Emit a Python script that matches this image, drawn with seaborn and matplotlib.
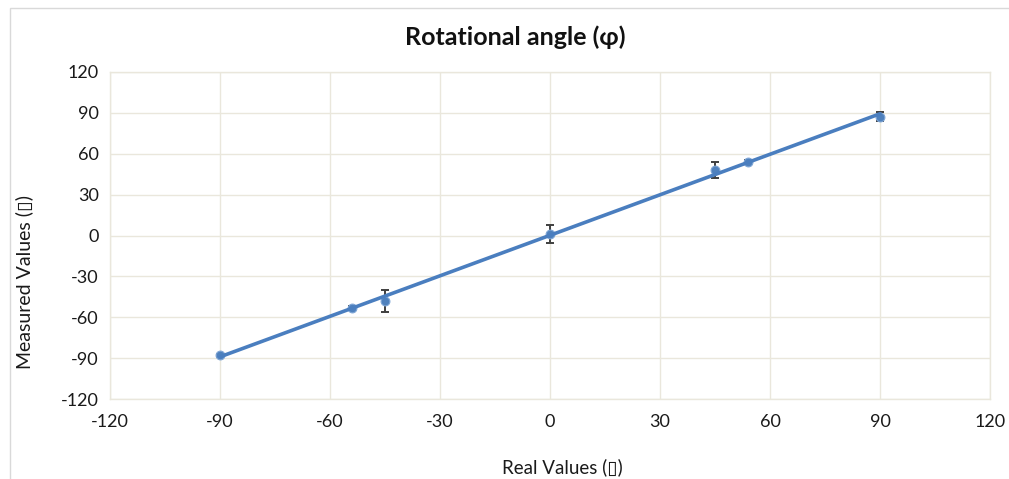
import matplotlib
matplotlib.use("Agg")
import matplotlib.pyplot as plt
import seaborn as sns
import numpy as np
import pandas as pd
from matplotlib.patches import Rectangle

real_values = [-90, -54, -45, 0, 45, 54, 90]
measured_values = [-88, -53, -48, 1, 48, 54, 87]
errors = [1.2, 1.2, 8, 6.5, 6, 1.5, 3.3]
ticks = [-120, -90, -60, -30, 0, 30, 60, 90, 120]

df = pd.DataFrame({"real": real_values, "measured": measured_values, "err": errors})

sns.set_theme(style="white")
plt.rcParams["font.family"] = ["Lato", "DejaVu Sans"]
plt.rcParams["axes.unicode_minus"] = False

fig = plt.figure(figsize=(10.09, 4.79), dpi=100)
ax = fig.add_axes([110/1009, 1-399/479, 880/1009, 327/479])

grid_c = "#EAE7DC"
ax.errorbar(df["real"], df["measured"], yerr=df["err"], fmt="none",
            ecolor="#3F3F3F", elinewidth=1.4, capsize=3, capthick=1.4, zorder=3)
sns.regplot(data=df, x="real", y="measured", ci=None, ax=ax,
            scatter_kws=dict(s=40, color="#4F81BD", edgecolor="#7FA6D6", linewidths=0.8, zorder=4, alpha=1),
            line_kws=dict(color="#4A7EBF", lw=2.6, zorder=5))

ax.set_xlim(-120, 120)
ax.set_ylim(-120, 120)
ax.set_xticks(ticks)
ax.set_yticks(ticks)
ax.grid(True, color=grid_c, lw=1.0)
ax.set_axisbelow(True)
for s in ax.spines.values():
    s.set_color(grid_c)
    s.set_linewidth(1.0)
ax.tick_params(axis="both", length=0, labelsize=13, colors="#1a1a1a", pad=8)
ax.tick_params(axis="x", pad=11)

ax.set_xlabel("")
ax.set_ylabel("")
fig.text(562/1009, 1-467/479, "Real Values (▯)", ha="center", va="center", fontsize=13.5, color="#1a1a1a")
fig.text(24/1009, 1-282/479, "Measured Values (▯)", ha="center", va="center", rotation=90, fontsize=14, color="#1a1a1a")
fig.text(515/1009, 1-37/479, "Rotational angle (φ)", ha="center", va="center", fontsize=18, fontweight="bold", color="#111111")

fig.patches.append(Rectangle((10/1009, -0.05), 1.1, 1-8/479+0.05, transform=fig.transFigure,
                             fill=False, edgecolor="#D9D9D9", lw=1.0))

fig.savefig("out.png", dpi=100)
